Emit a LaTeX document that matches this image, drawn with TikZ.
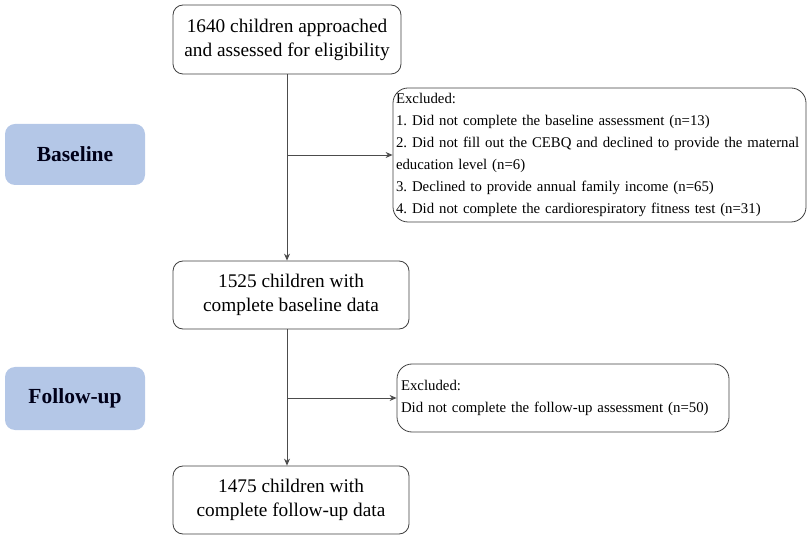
\documentclass[tikz,border=0pt]{standalone}
\usepackage{fontspec}
\setmainfont{Liberation Serif}
\usetikzlibrary{positioning}
\usetikzlibrary{arrows.meta}

\definecolor{phase}{HTML}{B4C7E7}
\tikzset{
  stagebox/.style={draw=black!75, line width=0.8pt, rounded corners=10pt, fill=white,
    align=center, inner sep=0pt, font=\fontsize{19.3}{24}\selectfont},
  exclbox/.style={draw=black!75, line width=0.8pt, rounded corners=15pt, fill=white,
    align=left, inner sep=0pt, font=\fontsize{14.8}{22}\selectfont},
  phasebox/.style={fill=phase, rounded corners=10pt, text=black!90!blue,
    minimum width=140pt, font=\bfseries\fontsize{21.5}{24}\selectfont},
  arr/.style={-{Stealth[length=7pt,width=6pt]}, line width=0.9pt, draw=black!70},
}

\begin{document}
\frenchspacing
\begin{tikzpicture}[x=1pt,y=1pt]
\useasboundingbox (0,0) rectangle (810,538);

\node (A1) [stagebox, minimum width=228pt, minimum height=69pt] at (287,498.5)
  {1640 children approached\\and assessed for eligibility};
\node (A2) [stagebox, minimum width=236pt, minimum height=68pt] at (291,243)
  {1525 children with\\complete baseline data};
\node (A3) [stagebox, minimum width=236pt, minimum height=68pt] at (291,38)
  {1475 children with\\complete follow-up data};

\node (E1) [exclbox, minimum width=413pt, minimum height=134pt, text width=407pt] at (599.5,383)
  {Excluded:\\
   1. Did not complete the baseline assessment (n=13)\\
   2. Did not fill out the CEBQ and declined to provide the maternal\\
   education level (n=6)\\
   3. Declined to provide annual family income (n=65)\\
   4. Did not complete the cardiorespiratory fitness test (n=31)};
\node (E2) [exclbox, minimum width=332pt, minimum height=68pt, text width=324pt] at (563,140)
  {Excluded:\\
   Did not complete the follow-up assessment (n=50)};

\node (P1) [phasebox, minimum height=61pt] at (75,383.5) {Baseline};
\node (P2) [phasebox, minimum height=63pt] at (75,139.5) {Follow-up};

\coordinate (B1) at (A1.south |- E1.west);
\coordinate (B2) at (A1.south |- E2.west);

\draw[arr] (A1.south) -- (A1.south |- A2.north);
\draw[arr] (B1) -- (E1.west);
\draw[arr] (A1.south |- A2.south) -- (A1.south |- A3.north);
\draw[arr] (B2) -- (E2.west);
\end{tikzpicture}
\end{document}
